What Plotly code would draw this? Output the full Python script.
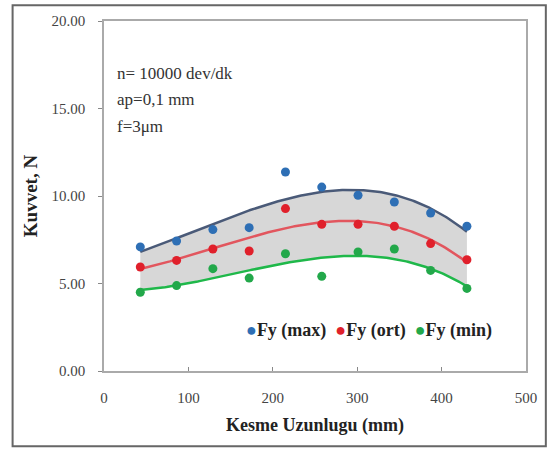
import numpy as np
import plotly.graph_objects as go

x_len = [43, 86, 129, 172, 215, 258, 301, 344, 387, 430]
fy_max = [7.09, 7.43, 8.08, 8.19, 11.37, 10.51, 10.04, 9.66, 9.03, 8.27]
fy_ort = [5.94, 6.32, 6.97, 6.86, 9.28, 8.38, 8.38, 8.27, 7.28, 6.36]
fy_min = [4.50, 4.88, 5.85, 5.31, 6.70, 5.41, 6.80, 6.97, 5.75, 4.72]
names = ["Fy (max)", "Fy (ort)", "Fy (min)"]
colors = ["#2e6fb5", "#e0202b", "#22a84a"]
x_ticks = [0, 100, 200, 300, 400, 500]
y_ticks = [0, 5, 10, 15, 20]
info_lines = ["n= 10000 dev/dk", "ap=0,1 mm", "f=3μm"]

DEG = 3
xs = np.linspace(min(x_len), max(x_len), 200)
def trend(y):
    return np.polyval(np.polyfit(x_len, y, DEG), xs)

t_max, t_ort, t_min = trend(fy_max), trend(fy_ort), trend(fy_min)

font = "Liberation Serif"
fig = go.Figure()
fig.add_trace(go.Scatter(x=xs, y=t_min, mode="lines", line=dict(color="#1fb84a", width=2.5),
                         showlegend=False, hoverinfo="skip"))
fig.add_trace(go.Scatter(x=xs, y=t_max, mode="lines", line=dict(color="#4a5a78", width=2.5),
                         fill="tonexty", fillcolor="rgba(205,205,205,0.8)",
                         showlegend=False, hoverinfo="skip"))
fig.add_trace(go.Scatter(x=xs, y=t_ort, mode="lines", line=dict(color="#e2565e", width=2.5),
                         showlegend=False, hoverinfo="skip"))
for y, n, c in zip([fy_max, fy_ort, fy_min], names, colors):
    fig.add_trace(go.Scatter(x=x_len, y=y, mode="markers", name=n, showlegend=False,
                             marker=dict(color=c, size=9)))

for i, line in enumerate(info_lines):
    fig.add_annotation(x=0.027, y=0.851 - i * 0.076, xref="paper", yref="paper",
                       xanchor="left", yanchor="middle", showarrow=False, text=line,
                       font=dict(family=font, size=17, color="#333"))

legend_text = "&nbsp;&nbsp;".join(
    f"<span style='color:{c}'>●</span><b>{n}</b>" for n, c in zip(names, colors))
fig.add_annotation(x=0.627, y=0.116, xref="paper", yref="paper", xanchor="center",
                   yanchor="middle", showarrow=False, text=legend_text,
                   font=dict(family=font, size=18, color="#222"))

axis_common = dict(showline=True, linecolor="#aaa", linewidth=1.5, mirror=True,
                   showgrid=False, zeroline=False, ticklen=4,
                   tickcolor="#888", tickfont=dict(family=font, size=15, color="#444"))
fig.update_xaxes(range=[0, 500], tickvals=x_ticks, ticks="inside", ticklabelstandoff=12,
                 title=dict(text="<b>Kesme Uzunlugu (mm)</b>", font=dict(family=font, size=18, color="#222"), standoff=14),
                 **axis_common)
fig.update_yaxes(range=[0, 20], tickvals=y_ticks, tickformat=".2f", ticks="outside", ticklabelstandoff=10,
                 title=dict(text="<b>Kuvvet, N</b>", font=dict(family=font, size=19, color="#222"), standoff=9),
                 **axis_common)

fig.update_layout(width=548, height=450, paper_bgcolor="white", plot_bgcolor="white",
                  margin=dict(l=104, r=22, t=21, b=79), showlegend=False,
                  shapes=[dict(type="rect", xref="paper", yref="paper", x0=-0.2166, x1=1.047,
                               y0=-0.215, y1=1.045, line=dict(color="#666", width=2))])
fig.write_html("out.html", config={"displayModeBar": False},
               post_script="document.body.style.margin='0';")
